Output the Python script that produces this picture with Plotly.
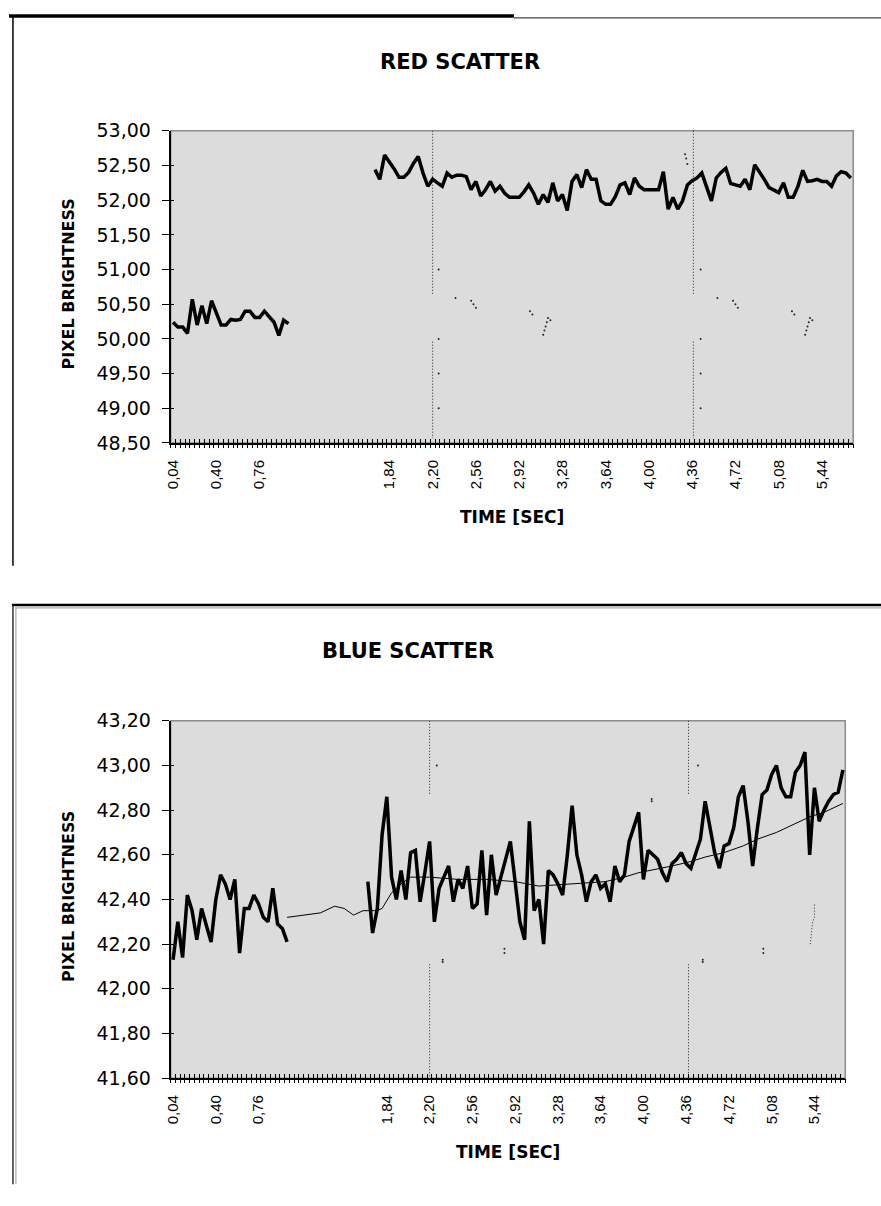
import plotly.graph_objects as go

W, H = 881, 1206

# ---------------- data ----------------
TIME_STEP = 0.04                      # one category = 0.04 s
N_CATEGORIES = 142                    # 0,04 ... 5,68
tick_times = [0.04, 0.40, 0.76, 1.84, 2.20, 2.56, 2.92, 3.28, 3.64, 4.00, 4.36, 4.72, 5.08, 5.44]

# RED SCATTER - two recorded segments (category index of first point + values)
red_seg1_start = 0
red_seg1 = [50.24, 50.17, 50.17, 50.08, 50.57, 50.20, 50.48, 50.22, 50.55, 50.39,
            50.20, 50.20, 50.28, 50.27, 50.28, 50.40, 50.40, 50.31, 50.31, 50.40,
            50.32, 50.24, 50.05, 50.27, 50.22]
red_seg2_start = 42
red_seg2 = [52.44, 52.30, 52.65, 52.56, 52.45, 52.33, 52.33, 52.40, 52.53, 52.63,
            52.39, 52.20, 52.30, 52.25, 52.20, 52.39, 52.33, 52.36, 52.36, 52.34,
            52.15, 52.27, 52.06, 52.15, 52.27, 52.13, 52.20, 52.10, 52.04, 52.04,
            52.04, 52.12, 52.22, 52.10, 51.94, 52.08, 51.97, 52.25, 51.99, 52.08,
            51.85, 52.27, 52.37, 52.18, 52.44, 52.30, 52.30, 51.99, 51.94, 51.94,
            52.05, 52.22, 52.25, 52.08, 52.32, 52.20, 52.15, 52.15, 52.15, 52.15,
            52.41, 51.87, 52.04, 51.87, 51.99, 52.22, 52.28, 52.32, 52.39, 52.18,
            51.99, 52.32, 52.40, 52.46, 52.24, 52.22, 52.20, 52.30, 52.15, 52.51,
            52.41, 52.30, 52.18, 52.15, 52.11, 52.25, 52.04, 52.04, 52.20, 52.43,
            52.27, 52.28, 52.30, 52.27, 52.27, 52.20, 52.35, 52.41, 52.39, 52.32]

# BLUE SCATTER
blue_seg1_start = 0
blue_seg1 = [42.13, 42.30, 42.14, 42.42, 42.35, 42.22, 42.36, 42.28, 42.21, 42.40,
             42.51, 42.47, 42.40, 42.49, 42.16, 42.36, 42.36, 42.42, 42.38, 42.32,
             42.30, 42.45, 42.29, 42.27, 42.21]
blue_seg2_start = 41
blue_seg2 = [42.48, 42.25, 42.36, 42.69, 42.86, 42.50, 42.40, 42.53, 42.40, 42.61,
             42.62, 42.39, 42.52, 42.66, 42.30, 42.45, 42.50, 42.55, 42.39, 42.49,
             42.45, 42.55, 42.36, 42.38, 42.62, 42.33, 42.60, 42.42, 42.50, 42.58,
             42.66, 42.48, 42.30, 42.22, 42.75, 42.35, 42.40, 42.20, 42.53, 42.51,
             42.47, 42.42, 42.60, 42.82, 42.60, 42.51, 42.39, 42.48, 42.51, 42.45,
             42.47, 42.39, 42.55, 42.48, 42.51, 42.66, 42.72, 42.79, 42.49, 42.62,
             42.60, 42.58, 42.52, 42.48, 42.56, 42.58, 42.61, 42.56, 42.54, 42.60,
             42.67, 42.84, 42.72, 42.61, 42.54, 42.64, 42.65, 42.72, 42.86, 42.91,
             42.75, 42.55, 42.72, 42.87, 42.89, 42.96, 43.00, 42.90, 42.86, 42.86,
             42.97, 43.00, 43.06, 42.60, 42.90, 42.75, 42.80, 42.84, 42.87, 42.88,
             42.98]
# thin trend line of the blue series
blue_trend_t = [1.00, 1.16, 1.28, 1.40, 1.48, 1.56, 1.64, 1.76, 1.80, 1.88, 1.96, 2.04,
                2.20, 2.44, 2.68, 2.92, 3.12, 3.40, 3.68, 3.84, 3.96, 4.24, 4.40, 4.52,
                4.68, 4.84, 4.96, 5.12, 5.24, 5.40, 5.52, 5.68]
blue_trend_v = [42.32, 42.33, 42.34, 42.37, 42.36, 42.33, 42.35, 42.35, 42.36, 42.43, 42.47, 42.50,
                42.50, 42.49, 42.49, 42.48, 42.46, 42.47, 42.48, 42.50, 42.52, 42.55, 42.57, 42.59,
                42.61, 42.64, 42.67, 42.70, 42.73, 42.77, 42.79, 42.83]

# faint dotted marks visible in the scan
red_vdot_t = [2.20, 2.20, None, 2.20, 2.20, None, 4.37, 4.37, None, 4.37, 4.37]
red_vdot_v = [53.00, 50.65, None, 49.96, 48.57, None, 53.00, 50.65, None, 49.96, 48.57]
red_dots_t = [2.25, 2.25, 2.25, 2.25, 4.43, 4.43, 4.43, 4.43,
              2.39, 2.52, 2.54, 2.56, 3.01, 3.03, 3.12, 3.13, 3.14, 3.15, 3.16, 3.18,
              4.57, 4.70, 4.72, 4.74, 5.19, 5.21, 5.30, 5.31, 5.32, 5.33, 5.34, 5.36,
              4.30, 4.31, 4.32]
red_dots_v = [51.00, 50.00, 49.50, 49.00, 51.00, 50.00, 49.50, 49.00,
              50.59, 50.55, 50.50, 50.45, 50.40, 50.35, 50.06, 50.12, 50.18, 50.24, 50.30, 50.27,
              50.59, 50.55, 50.50, 50.45, 50.40, 50.35, 50.06, 50.12, 50.18, 50.24, 50.30, 50.27,
              52.66, 52.60, 52.52]
blue_vdot_t = [2.20, 2.20, None, 2.20, 2.20, None, 4.38, 4.38, None, 4.38, 4.38, None,
               5.405, 5.425, 5.44, 5.44]
blue_vdot_v = [43.20, 42.87, None, 42.11, 41.60, None, 43.20, 42.87, None, 42.11, 41.60, None,
               42.20, 42.30, 42.32, 42.38]
blue_dots_t = [2.26, 2.31, 2.31, 4.46, 4.07, 4.07, 4.50, 4.50, 2.83, 2.83, 5.01, 5.01]
blue_dots_v = [43.00, 42.13, 42.12, 43.00, 42.85, 42.84, 42.13, 42.12, 42.18, 42.16, 42.18, 42.16]


def cat_times(start, n):
    return [round(TIME_STEP * (start + i + 1), 2) for i in range(n)]


# ---------------- helpers for pixel layout ----------------
def px(x):
    return x / W


def py(y):
    return 1 - y / H


X_RANGE = [0.02, TIME_STEP * N_CATEGORIES + 0.02]
BG = "#DCDCDC"
TICKFONT_X = dict(family="Liberation Sans, Arial", size=15, color="black")
TICKFONT_Y = dict(family="DejaVu Sans, Verdana", size=19, color="black")
BOLD = "DejaVu Sans, Verdana"

fig = go.Figure()

thick = dict(color="black", width=3.5)
# red
fig.add_trace(go.Scatter(x=cat_times(red_seg1_start, len(red_seg1)), y=red_seg1, mode="lines",
                         line=thick, xaxis="x", yaxis="y", showlegend=False))
fig.add_trace(go.Scatter(x=cat_times(red_seg2_start, len(red_seg2)), y=red_seg2, mode="lines",
                         line=thick, xaxis="x", yaxis="y", showlegend=False))
fig.add_trace(go.Scatter(x=red_vdot_t, y=red_vdot_v, mode="lines",
                         line=dict(color="#222", width=1, dash="1px,2px"),
                         xaxis="x", yaxis="y", showlegend=False))
fig.add_trace(go.Scatter(x=red_dots_t, y=red_dots_v, mode="markers",
                         marker=dict(color="#222", size=2),
                         xaxis="x", yaxis="y", showlegend=False))
# blue
fig.add_trace(go.Scatter(x=cat_times(blue_seg1_start, len(blue_seg1)), y=blue_seg1, mode="lines",
                         line=thick, xaxis="x2", yaxis="y2", showlegend=False))
fig.add_trace(go.Scatter(x=cat_times(blue_seg2_start, len(blue_seg2)), y=blue_seg2, mode="lines",
                         line=thick, xaxis="x2", yaxis="y2", showlegend=False))
fig.add_trace(go.Scatter(x=blue_trend_t, y=blue_trend_v, mode="lines",
                         line=dict(color="black", width=1),
                         xaxis="x2", yaxis="y2", showlegend=False))
fig.add_trace(go.Scatter(x=blue_vdot_t, y=blue_vdot_v, mode="lines",
                         line=dict(color="#222", width=1, dash="1px,2px"),
                         xaxis="x2", yaxis="y2", showlegend=False))
fig.add_trace(go.Scatter(x=blue_dots_t, y=blue_dots_v, mode="markers",
                         marker=dict(color="#222", size=2),
                         xaxis="x2", yaxis="y2", showlegend=False))
# empty traces so that the tick-overlay axes exist
for xa, ya in [("x3", "y"), ("x4", "y"), ("x5", "y2"), ("x6", "y2")]:
    fig.add_trace(go.Scatter(x=[None], y=[None], xaxis=xa, yaxis=ya, showlegend=False,
                             hoverinfo="skip"))
for xa, ya in [("x", "y3"), ("x2", "y4")]:
    fig.add_trace(go.Scatter(x=[None], y=[None], xaxis=xa, yaxis=ya, showlegend=False,
                             hoverinfo="skip"))

red_xdom = [px(165), px(853)]
red_ydom = [py(440), py(122)]
blue_xdom = [px(165), px(845)]
blue_ydom = [py(1087), py(723)]


def main_x(dom, anchor):
    return dict(domain=dom, anchor=anchor, range=X_RANGE, tickmode="array", tickvals=tick_times,
                tickformat=".2f", tickangle=-90, tickfont=TICKFONT_X, ticks="",
                ticklabelstandoff=9, showline=True, linecolor="black", linewidth=2,
                showgrid=False, zeroline=False, fixedrange=True)


def tick_x(dom, anchor, overlay, side):
    return dict(domain=dom, anchor=anchor, overlaying=overlay, range=X_RANGE, tickmode="linear",
                tick0=0.02, dtick=TIME_STEP, ticks=side, ticklen=4, tickwidth=1, tickcolor="black",
                showticklabels=False, showline=False, showgrid=False, zeroline=False, fixedrange=True)


def main_y(dom, anchor, rng, dtick):
    return dict(domain=dom, anchor=anchor, range=rng, tickmode="linear", tick0=rng[0], dtick=dtick,
                tickformat=".2f", tickfont=TICKFONT_Y, ticks="outside", ticklen=7, tickwidth=1,
                tickcolor="black", ticklabelstandoff=7, showline=True, linecolor="black",
                linewidth=2, showgrid=False, zeroline=False, fixedrange=True)


def tick_y(dom, anchor, overlay, rng, dtick):
    return dict(domain=dom, anchor=anchor, overlaying=overlay, range=rng, tickmode="linear",
                tick0=rng[0], dtick=dtick, ticks="inside", ticklen=3, tickwidth=1,
                tickcolor="black", showticklabels=False, showline=False, showgrid=False,
                zeroline=False, fixedrange=True)


fig.update_layout(
    width=W, height=H, margin=dict(l=0, r=0, t=0, b=0),
    paper_bgcolor="white", plot_bgcolor=BG, separators=", ",
    xaxis=main_x(red_xdom, "y"),
    yaxis=main_y(red_ydom, "x", [48.5, 53.0], 0.5),
    xaxis2=main_x(blue_xdom, "y2"),
    yaxis2=main_y(blue_ydom, "x2", [41.6, 43.2], 0.2),
    xaxis3=tick_x(red_xdom, "y", "x", "outside"),
    xaxis4=tick_x(red_xdom, "y", "x", "inside"),
    xaxis5=tick_x(blue_xdom, "y2", "x2", "outside"),
    xaxis6=tick_x(blue_xdom, "y2", "x2", "inside"),
    yaxis3=tick_y(red_ydom, "x", "y", [48.5, 53.0], 0.5),
    yaxis4=tick_y(blue_ydom, "x2", "y2", [41.6, 43.2], 0.2),
)

shapes = []
# grey plot-area borders
for xr, yr in [("x domain", "y domain"), ("x2 domain", "y2 domain")]:
    shapes.append(dict(type="rect", xref=xr, yref=yr, x0=0, x1=1, y0=0, y1=1,
                       line=dict(color="#8C8C8C", width=1.5), layer="below"))


def pline(x0, y0, x1, y1, color, width):
    shapes.append(dict(type="line", xref="paper", yref="paper", x0=px(x0), y0=py(y0),
                       x1=px(x1), y1=py(y1), line=dict(color=color, width=width)))


# chart-frame edges seen in the scan
pline(2, 5, 511, 5, "black", 3.5)
pline(511, 7, 881, 7, "#444", 1.2)
pline(6, 5, 6, 565, "black", 1.5)
pline(5, 605, 881, 605, "black", 2.5)
pline(8, 608, 881, 608, "#9A9A9A", 1)
pline(6, 605, 6, 1195, "#333", 1.5)
pline(9, 608, 9, 1195, "#9A9A9A", 1)
fig.update_layout(shapes=shapes)

ann = []


def text(t, x, y, size, angle=0):
    ann.append(dict(text=f"<b>{t}</b>", x=px(x), y=py(y), xref="paper", yref="paper",
                    showarrow=False, xanchor="center", yanchor="middle", textangle=angle,
                    font=dict(family=BOLD, size=size, color="black")))


text("RED SCATTER", 457, 52, 21)
text("BLUE SCATTER", 404, 652, 21)
text("PIXEL BRIGHTNESS", 62, 278, 16, -90)
text("PIXEL BRIGHTNESS", 62, 902, 16, -90)
text("TIME [SEC]", 509, 515, 17)
text("TIME [SEC]", 505, 1162, 17)
fig.update_layout(annotations=ann)

fig.write_html("out.html", config={"displayModeBar": False},
               post_script="document.body.style.margin='0px';")
